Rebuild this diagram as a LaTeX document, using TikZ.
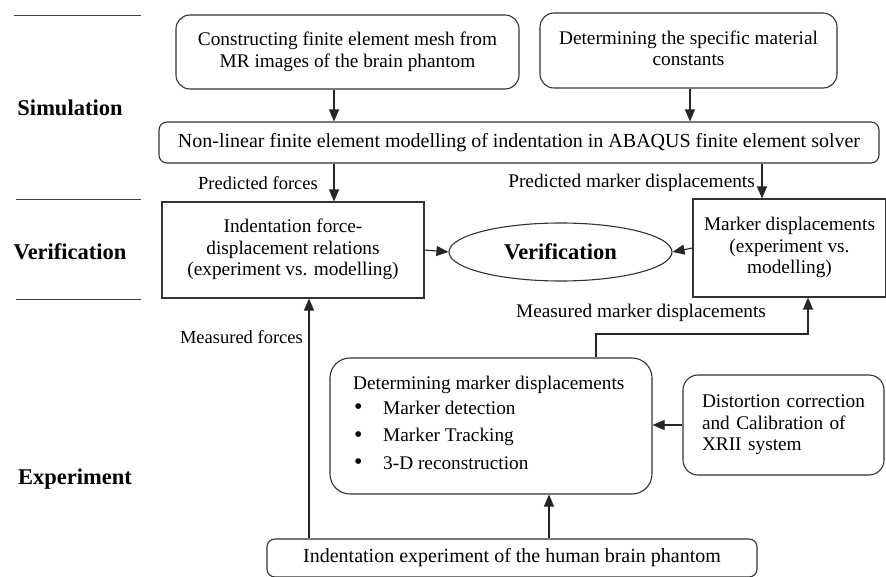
\documentclass[tikz,border=0pt]{standalone}
\usepackage{fontspec}
\setmainfont{Liberation Serif}
\usetikzlibrary{shapes.geometric,arrows.meta}
\newcommand{\upby}[2]{\raisebox{#1}{\begin{tabular}{@{}c@{}}#2\end{tabular}}}
\newcommand{\bul}{\makebox[30pt][l]{\hspace{1pt}\raisebox{-0.5pt}{\fontsize{24}{24}\selectfont\textbullet}}}
\begin{document}
\begin{tikzpicture}[x=1pt,y=-1pt,
  every node/.style={font=\fontsize{19.3}{21.6}\selectfont, inner sep=0pt},
  lc/.style={draw=black!80, line width=1.1pt},
  rbox/.style={lc, rounded corners=#1, align=center},
  rbox/.default=14pt,
  sbox/.style={lc, align=center},
  arr/.style={black!85, line width=1.1pt, -{Triangle[length=12pt,width=10pt]}},
  rule/.style={black!75, line width=1pt},
  side/.style={font=\bfseries\fontsize{22.5}{26}\selectfont},
  wide/.style={font=\fontsize{20}{23}\selectfont},
  small/.style={font=\fontsize{18.5}{22}\selectfont}]
\useasboundingbox (0,0) rectangle (886,577);
\fill[white] (0,0) rectangle (886,577);

% section rules
\draw[rule] (14,16) -- (141,16);
\draw[rule] (16,200) -- (141,200);
\draw[rule] (16,300) -- (141,300);

% section labels
\node[side] (simlbl) at (70,108) {Simulation};
\node[side] (verlbl) at (70,252) {Verification};
\node[side] (explbl) at (75,479) {Experiment};

% simulation boxes
\node[rbox, minimum width=343pt, minimum height=74pt] (b1) at (347.5,52)
  {\upby{1pt}{Constructing finite element mesh from\\MR images of the brain phantom}};
\node[rbox, minimum width=297pt, minimum height=75pt] (b2) at (688.5,50.5)
  {\upby{4pt}{Determining the specific material\\constants}};
\node[rbox=8pt, minimum width=720pt, minimum height=41pt, wide] (nl) at (519,142.5)
  {Non-linear finite element modelling of indentation in ABAQUS finite element solver};

% verification
\node[sbox, minimum width=262pt, minimum height=96pt] (fd) at (293,250)
  {\upby{6pt}{Indentation force-\\displacement relations\\(experiment vs. modelling)}};
\node[lc, ellipse, minimum width=223pt, minimum height=58pt,
      font=\bfseries\fontsize{22.5}{26}\selectfont] (ver) at (560.5,252) {Verification};
\node[sbox, minimum width=193pt, minimum height=98pt] (md) at (789.5,248)
  {\upby{6pt}{Marker displacements\\(experiment vs.\\modelling)}};

% experiment
\node[rbox=20pt, minimum width=322pt, minimum height=136pt] (dm) at (491,426) {};
\node[anchor=north west, align=left, inner sep=0pt] (dmtext) at (353,376)
  {Determining marker displacements\\[3pt]
   \bul Marker detection\\[6pt]
   \bul Marker Tracking\\[6pt]
   \bul 3-D reconstruction};
\node[rbox=15pt, minimum width=201pt, minimum height=100pt, align=left,
      text width=163pt] (dc) at (783.5,425)
  {Distortion correction\\and Calibration of\\XRII system};
\node[rbox=8pt, minimum width=490pt, minimum height=38pt, wide] (ie) at (512,558)
  {Indentation experiment of the human brain phantom};

% connector x positions
\coordinate (xa) at (334,0);
\coordinate (xb) at (690,0);
\coordinate (xc) at (762,0);
\coordinate (xmf) at (309,0);
\coordinate (xie) at (549,0);
\coordinate (mmx) at (596,334);
\coordinate (xmd) at (808,0);

% connectors
\draw[arr] (b1.south -| xa) -- (nl.north -| xa);
\draw[arr] (b2.south -| xb) -- (nl.north -| xb);
\draw[arr] (nl.south -| xa) -- (fd.north -| xa);
\draw[arr] (nl.south -| xc) -- (md.north -| xc);
\draw[arr] (fd.east) -- (ver.west);
\draw[arr] (md.west) -- (ver.east);
\draw[arr] (ie.north -| xmf) -- (fd.south -| xmf);
\draw[arr] (ie.north -| xie) -- (dm.south -| xie);
\draw[arr] (dc.west) -- (dc.west -| dm.east);
\draw[arr] (dm.north -| mmx) -- (mmx) -| (md.south -| xmd);

% connector labels
\node[anchor=east, small] (lpf) at (318,183) {Predicted forces};
\node[anchor=east] (lpm) at (755,183) {Predicted marker displacements};
\node (lmm) at (641,313) {Measured marker displacements};
\node[anchor=east, small] (lmf) at (303,337) {Measured forces};
\end{tikzpicture}
\end{document}
